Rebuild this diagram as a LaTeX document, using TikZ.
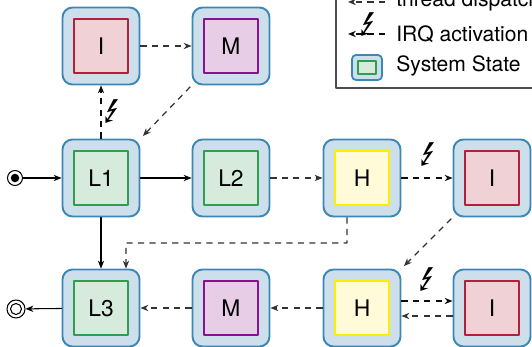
\documentclass[tikz,border=0pt]{standalone}
\usepackage{fontspec}
\setmainfont{TeX Gyre Heros}
\usepackage{marvosym}
\usetikzlibrary{arrows.meta}
\definecolor{stateblue}{HTML}{3B87B5}
\definecolor{statefill}{HTML}{CCDFEA}
\definecolor{lgreen}{HTML}{2E9E4F}
\definecolor{lgreenfill}{HTML}{D6EBDB}
\definecolor{ired}{HTML}{B3203A}
\definecolor{iredfill}{HTML}{F0D1D6}
\definecolor{mpurple}{HTML}{8A1190}
\definecolor{mpurplefill}{HTML}{E8CDE7}
\definecolor{hyellow}{HTML}{FFEE00}
\definecolor{hyellowfill}{HTML}{FFFBD8}
% one system state: outer frame and inner coloured square
\newcommand{\sysstate}[4]{%
  \node[outer] (#1) at (#2) {};
  \node[#3] (#1in) at (#2) {#4};}
\begin{document}
\begin{tikzpicture}[line join=round, line cap=round, >={Stealth[length=4.5pt,width=3.6pt]},
    outer/.style={draw=stateblue, fill=statefill, line width=1.1pt, rounded corners=0.2cm, minimum size=1.54cm, inner sep=0pt},
    inner/.style={line width=1pt, minimum size=1.08cm, inner sep=0pt, font=\fontsize{13}{15}\selectfont},
    lstate/.style={inner, draw=lgreen, fill=lgreenfill},
    istate/.style={inner, draw=ired, fill=iredfill},
    mstate/.style={inner, draw=mpurple, fill=mpurplefill},
    hstate/.style={inner, draw=hyellow, fill=hyellowfill},
    flow/.style={->, line width=0.6pt},
    disp/.style={->, dash pattern=on 3.5pt off 3pt, line cap=butt, line width=0.7pt, draw=black!80},
    irq/.style={->, dash pattern=on 3.5pt off 3pt, line cap=butt, line width=0.7pt, draw=black!95},
    bolt/.style={inner sep=0pt, font=\fontsize{19}{19}\selectfont},
    legtext/.style={anchor=base west, inner sep=0pt, font=\fontsize{12}{14}\selectfont}]
	\useasboundingbox (0,0) rectangle (10.64,-6.94);
	\clip (0,0) rectangle (10.64,-6.94);
	% states
	\sysstate{I1}{2.02,-0.92}{istate}{I}
	\sysstate{M1}{4.62,-0.92}{mstate}{M}
	\sysstate{L1}{2.02,-3.56}{lstate}{L1}
	\sysstate{L2}{4.62,-3.56}{lstate}{L2}
	\sysstate{H2}{7.24,-3.56}{hstate}{H}
	\sysstate{I2}{9.84,-3.56}{istate}{I}
	\sysstate{L3}{2.02,-6.16}{lstate}{L3}
	\sysstate{M3}{4.62,-6.16}{mstate}{M}
	\sysstate{H3}{7.24,-6.16}{hstate}{H}
	\sysstate{I3}{9.84,-6.16}{istate}{I}
	% start and end
	\node[draw, circle, line width=0.6pt, minimum size=0.3cm, inner sep=0pt] (start) at (0.3,-3.56) {};
	\fill (start) circle (0.085);
	\node[draw, circle, line width=0.6pt, minimum size=0.36cm, inner sep=0pt] (stop) at (0.32,-6.18) {};
	\draw[line width=0.6pt] (stop) circle (0.11);
	% connectors
	\draw[flow] (start)--(L1);
	\draw[flow] (L1)--(L2);
	\draw[flow] (L1)--(L3);
	\draw[flow] (L3)--(stop);
	\draw[irq] (L1)--(I1);
	\draw[disp] (I1)--(M1);
	\draw[disp, shorten <=1pt, shorten >=2pt] (M1.south west)--(L1.north east);
	\draw[disp] (L2)--(H2);
	\draw[irq] (H2)--(I2);
	\draw[disp, shorten <=1pt, shorten >=2pt] (I2.south west)--(H3.north east);
	\draw[disp] ([xshift=-0.3cm]H2.south) |- (2.52,-4.86) -- ([xshift=0.5cm]L3.north);
	\draw[irq] ([yshift=0.14cm]H3.east)--([yshift=0.14cm]I3.west);
	\draw[disp] ([yshift=-0.16cm]I3.west)--([yshift=-0.16cm]H3.east);
	\draw[disp] (H3)--(M3);
	\draw[disp] (M3)--(L3);
	\node[bolt] (b1) at (2.24,-2.24) {\Lightning};
	\node[bolt] (b2) at (8.56,-3.1) {\Lightning};
	\node[bolt] (b3) at (8.54,-5.6) {\Lightning};
	% legend
	\draw[line width=0.6pt, draw=black!70, fill=white] (6.72,-1.76) rectangle (11.5,0.6);
	\coordinate (d1) at (7.7,-0.04);
	\coordinate (d0) at (6.96,-0.04);
	\coordinate (q1) at (7.7,-0.68);
	\coordinate (q0) at (6.96,-0.68);
	\draw[disp] (d1)--(d0);
	\draw[irq] (q1)--(q0);
	\node[bolt] (b4) at (7.36,-0.5) {\Lightning};
	\node[draw=stateblue, fill=statefill, line width=1pt, rounded corners=0.08cm, minimum width=0.6cm, minimum height=0.5cm, inner sep=0pt] (key) at (7.34,-1.35) {};
	\node[draw=lgreen, fill=lgreenfill, line width=0.9pt, minimum width=0.36cm, minimum height=0.25cm, inner sep=0pt] (keyin) at (7.34,-1.35) {};
	\node[legtext] (t1) at (7.92,-0.14) {thread dispatch};
	\node[legtext] (t2) at (7.92,-0.84) {IRQ activation};
	\node[legtext] (t3) at (7.92,-1.44) {System State};
\end{tikzpicture}
\end{document}
